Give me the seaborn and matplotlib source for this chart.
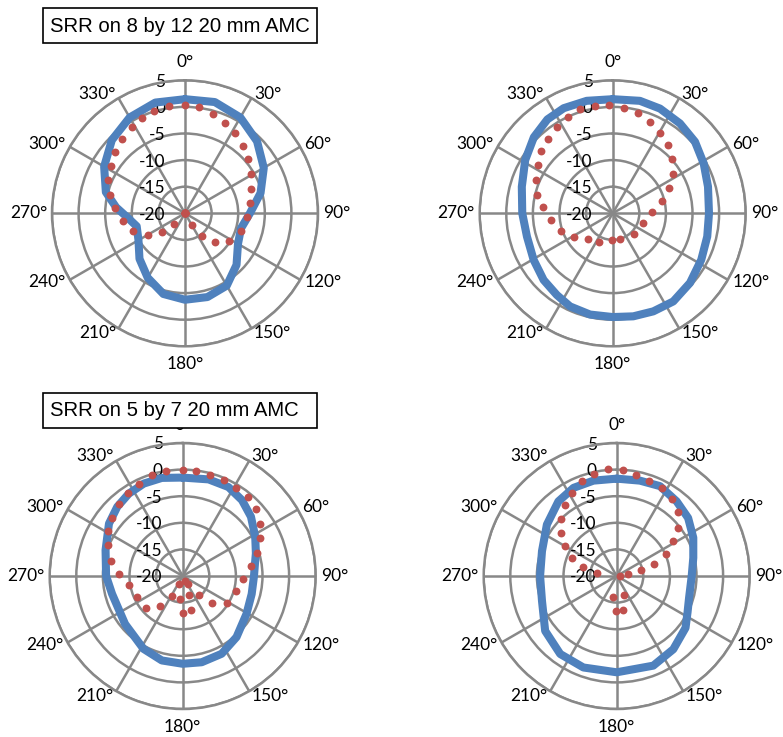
import numpy as np
import seaborn as sns
import matplotlib.pyplot as plt
import matplotlib.transforms as mtransforms
from matplotlib.patches import Rectangle

# SRR on 8 by 12 20 mm AMC, first cut
meas1_ang = [0, 15, 30, 45, 60, 75, 90, 105, 120, 135, 150, 165, 180, 195, 210,
             225, 240, 255, 265, 275, 285, 300, 315, 330, 345]
meas1_db = [1.45, 1.65, 0.8, -0.85, -2.9, -5.3, -7.8, -9.1, -8.5, -6.3, -4.3, -3.7,
            -3.75, -4.3, -6.0, -7.9, -9.9, -10.6, -9.3, -7.0, -4.6, -2.45, -0.55, 0.8, 1.55]
sim1_ang = [0, 7.5, 15.5, 23.7, 32, 40.8, 49.5, 59.5, 70, 81, 93.7, 108, 122, 134, 142,
            150, 160, 170, 180, 190, 200, 210, 224, 231, 240, 251, 263, 274, 283.7,
            293.5, 302.5, 311.4, 320, 328.4, 336, 343, 351.5]
sim1_db = [0.45, 0.17, -0.55, -1.4, -2.3, -3.25, -4.4, -5.5, -6.7, -7.7, -8.4, -9.0,
           -10.2, -12.2, -14.7, -17.5, -20, -20, -20, -20, -20, -20, -17.1, -14.4,
           -11.9, -9.75, -8.2, -6.8, -5.5, -4.3, -3.5, -2.5, -1.7, -0.9, -0.3, 0.2, 0.4]

# SRR on 8 by 12 20 mm AMC, second cut
meas2_ang = [0, 13.6, 24.3, 36.8, 49, 61.3, 74.4, 90, 103.8, 117.7, 132, 145.5, 157.5,
             168.7, 180, 192.6, 204.6, 214.4, 226, 239.5, 254.8, 270, 286.3, 301.3,
             314, 325.2, 335, 347]
meas2_db = [1.45, 1.75, 1.6, 1.1, 0.5, -0.5, -1.4, -1.9, -1.7, -1.2, -0.45, 0.1, -0.05,
            -0.25, -0.5, -0.5, -0.75, -1.4, -1.95, -2.75, -3.3, -3.0, -2.2, -0.75,
            0.6, 1.5, 1.8, 1.7]
sim2_ang = [6.3, 13.9, 22.2, 30.6, 38.8, 47.5, 56.7, 66.2, 76, 87.6, 108, 134, 163, 181,
            204.7, 224, 238.6, 251.5, 264, 275.4, 283.9, 293.5, 302.6, 310.9, 319, 327,
            335, 342.6, 350.9, 358]
sim2_db = [0.0, -0.5, -1.4, -2.4, -3.55, -4.9, -6.55, -8.4, -10.5, -12.6, -14.1, -14.5,
           -15, -14.9, -14, -13.25, -11.4, -9.8, -8.25, -6.8, -5.4, -4.3, -3.3, -2.25,
           -1.4, -0.65, 0.0, 0.45, 0.45, 0.3]

# SRR on 5 by 7 20 mm AMC, first cut
meas3_ang = [0, 15, 27.2, 38, 49, 61.6, 72.8, 80, 90, 104.6, 120.7, 138.6, 153.4, 167.6,
             180, 193.9, 208.3, 230.2, 255.8, 270, 288.6, 305.4, 316.6, 326.8, 337.2, 348]
meas3_db = [-1.5, -1.2, -1.2, -1.9, -3.0, -4.5, -5.6, -6.2, -6.6, -6.6, -6.05, -4.7,
            -3.65, -3.4, -3.5, -3.65, -4.45, -5.9, -6.3, -5.6, -4.7, -3.0, -2.1, -1.5,
            -1.15, -1.15]
sim3_ang = [0, 7.2, 15.2, 23.5, 31.3, 39.5, 47.7, 55.9, 64.1, 72.7, 82, 92.5, 106, 121,
            132, 139.5, 146.8, 153, 160.7, 166.8, 180, 186.6, 202.6, 208, 217, 228.9,
            245, 260.6, 272, 282, 292.2, 300.8, 309.7, 318.4, 326.8, 334.9, 343.1, 351]
sim3_db = [0.0, -0.15, -0.25, -0.4, -0.6, -0.75, -1.4, -2.4, -3.8, -5.3, -7.1, -8.7,
           -9.6, -10.3, -12.5, -15.2, -18.1, -19, -16.2, -13.45, -13, -15.65, -18.4,
           -15.7, -12.95, -10.9, -10.5, -9.7, -8.1, -6.25, -4.8, -3.6, -2.8, -1.95,
           -1.25, -0.8, -0.2, -0.05]

# SRR on 5 by 7 20 mm AMC, second cut
meas4_ang = [0, 13.7, 25.7, 38.7, 50.9, 63.4, 76.6, 90, 106.6, 117, 127, 142.3, 157.8,
             180, 200, 215.9, 232.5, 251.6, 270, 288.4, 306.4, 322, 333.9, 346.3]
meas4_db = [-1.7, -1.55, -1.25, -2.0, -2.7, -3.9, -5.2, -5.9, -5.8, -5.05, -3.8, -2.6,
            -1.8, -1.9, -1.7, -1.9, -3.05, -5.2, -5.6, -5.2, -3.7, -2.2, -1.55, -1.55]
sim4_ang = [3.2, 10.8, 18.9, 27.3, 35.7, 43.9, 51.9, 58.3, 66.1, 71.7, 76.9, 81.4, 95,
            159, 170, 181, 191, 279.5, 284.6, 291.7, 300.4, 307.6, 316, 324, 332, 339.8,
            347.5, 355.5]
sim4_db = [0.03, -0.6, -1.05, -1.35, -2.1, -3.3, -5.3, -7.5, -9.95, -12.6, -15.3, -17.9,
           -19.3, -16.1, -13.5, -13.4, -16.05, -16.2, -13.55, -11.05, -8.8, -6.7, -5.0,
           -3.5, -2.3, -0.95, -0.3, 0.1]

titles = ["SRR on 8 by 12 20 mm AMC", "SRR on 5 by 7 20 mm AMC"]
r_ticks = [-20, -15, -10, -5, 0, 5]
theta_ticks = list(range(0, 360, 30))

BLUE = "#4f81bd"
RED = "#c0504d"
GRID = "#888888"
FS = 12.5

sns.set_theme(style="white")
plt.rcParams["font.family"] = ["Lato", "DejaVu Sans"]
plt.rcParams["text.color"] = "black"

fig = plt.figure(figsize=(7.83, 7.37), dpi=100)
W, H = 783.0, 737.0
R = 133.0


def polar_panel(cx, cy, meas_ang, meas_db, sim_ang, sim_db):
    ax = fig.add_axes([(cx - R) / W, 1 - (cy + R) / H, 2 * R / W, 2 * R / H],
                      projection="polar")
    ax.set_theta_zero_location("N")
    ax.set_theta_direction(-1)

    th = np.deg2rad(meas_ang + meas_ang[:1])
    sns.lineplot(x=th, y=meas_db + meas_db[:1], ax=ax, sort=False, estimator=None,
                 color=BLUE, lw=5.8, zorder=3)
    sns.scatterplot(x=np.deg2rad(sim_ang), y=sim_db, ax=ax, color=RED, s=32,
                    linewidth=0, zorder=4)

    ax.set_ylim(-20, 5)
    ax.set_yticks(r_ticks[1:])
    ax.set_yticklabels([])
    ax.set_xticks(np.deg2rad(theta_ticks))
    ax.set_xticklabels([])
    ax.tick_params(length=0)
    ax.grid(True, color=GRID, lw=1.8)
    ax.spines["polar"].set_color(GRID)
    ax.spines["polar"].set_linewidth(1.8)
    ax.set_xlabel("")
    ax.set_ylabel("")

    # angle labels sit just outside the outer ring
    for t in theta_ticks:
        s, c = np.sin(np.deg2rad(t)), np.cos(np.deg2rad(t))
        if t in (0, 180):
            d, ha = 18, "center"
        else:
            d, ha = 5, ("left" if s > 0 else "right")
        off = mtransforms.offset_copy(ax.transData, fig=fig, x=d * s, y=d * c,
                                      units="dots")
        ax.text(np.deg2rad(t), 5, f"{t}°", transform=off, ha=ha, va="center",
                fontsize=FS, clip_on=False)

    # radial labels to the left of the 0° spoke
    off = mtransforms.offset_copy(ax.transData, fig=fig, x=-20, y=-1.5, units="dots")
    for r in r_ticks:
        ax.text(0, r, str(r), transform=off, ha="right", va="center",
                fontsize=FS, zorder=2)
    return ax


polar_panel(185.0, 213.3, meas1_ang, meas1_db, sim1_ang, sim1_db)
polar_panel(612.7, 213.3, meas2_ang, meas2_db, sim2_ang, sim2_db)
polar_panel(182.7, 576.0, meas3_ang, meas3_db, sim3_ang, sim3_db)
polar_panel(616.7, 576.0, meas4_ang, meas4_db, sim4_ang, sim4_db)

# boxed titles, drawn over the charts
for title, top in zip(titles, [8.0, 393.0]):
    fig.patches.append(Rectangle((43 / W, 1 - (top + 35) / H), 274 / W, 35 / H,
                                 transform=fig.transFigure, facecolor="white",
                                 edgecolor="black", lw=1.2, zorder=5))
    fig.text(50 / W, 1 - (top + 18) / H, title, ha="left", va="center",
             fontsize=14.6, family=["Liberation Sans", "DejaVu Sans"], zorder=6)

fig.savefig("out.png", dpi=100)
